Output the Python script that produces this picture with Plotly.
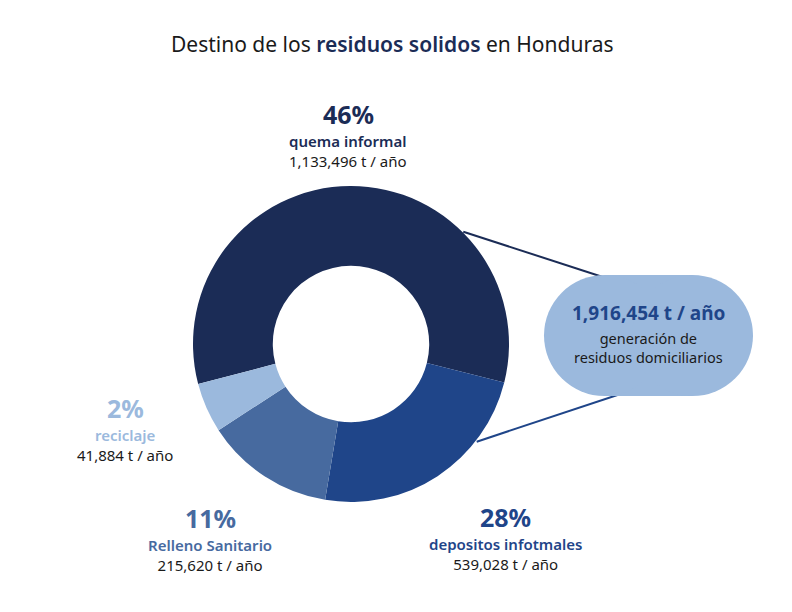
import plotly.graph_objects as go

# ---- data ----
categories = ["quema informal", "depositos infotmales", "Relleno Sanitario", "reciclaje"]
slice_share = [58.0, 23.7, 13.2, 5.1]          # share of the ring as drawn in the picture
percent_labels = ["46%", "28%", "11%", "2%"]
tonnes_labels = ["1,133,496 t / año", "539,028 t / año", "215,620 t / año", "41,884 t / año"]
total_label = "1,916,454 t / año"
total_caption = ["generación de", "residuos domiciliarios"]
colors = ["#1b2c56", "#1f4589", "#476a9f", "#9bb9dd"]
pct_colors = ["#1b2c56", "#1f4589", "#476a9f", "#9bb9dd"]

FONT = "Noto Sans"
W, H = 792, 612

fig = go.Figure()

# donut geometry (pixels)
cx, cy, R = 351, 344, 158
fig.add_trace(go.Pie(
    values=slice_share, labels=categories, sort=False, direction="clockwise",
    rotation=255.3, hole=0.495, marker=dict(colors=colors, line=dict(width=0)),
    textinfo="none", hoverinfo="skip", showlegend=False,
    domain=dict(x=[(cx - R) / W, (cx + R) / W], y=[(H - cy - R) / H, (H - cy + R) / H]),
))

# invisible pixel-scale axes for decorations
fig.add_trace(go.Scatter(x=[0, W], y=[0, H], mode="markers", marker=dict(opacity=0),
                         hoverinfo="skip", showlegend=False))
fig.update_xaxes(range=[0, W], visible=False, fixedrange=True, domain=[0, 1])
fig.update_yaxes(range=[H, 0], visible=False, fixedrange=True, domain=[0, 1])

# connector lines
fig.add_shape(type="line", x0=463.3, y0=231.7, x1=612, y1=280,
              line=dict(color="#1b2c56", width=2), xref="x", yref="y", layer="above")
fig.add_shape(type="line", x0=476.7, y0=441.7, x1=625, y1=392.5,
              line=dict(color="#1f4589", width=2), xref="x", yref="y", layer="above")

# pill
px0, px1, py0, py1 = 544, 753, 275, 396
pr = (py1 - py0) / 2
pill_col = "#9bb9dd"
fig.add_shape(type="rect", x0=px0 + pr, x1=px1 - pr, y0=py0, y1=py1,
              fillcolor=pill_col, line=dict(width=0), xref="x", yref="y", layer="above")
fig.add_shape(type="circle", x0=px0, x1=px0 + 2 * pr, y0=py0, y1=py1,
              fillcolor=pill_col, line=dict(width=0), xref="x", yref="y", layer="above")
fig.add_shape(type="circle", x0=px1 - 2 * pr, x1=px1, y0=py0, y1=py1,
              fillcolor=pill_col, line=dict(width=0), xref="x", yref="y", layer="above")

def ann(x, y, text, size, color, weight="normal"):
    fig.add_annotation(x=x, y=y, xref="x", yref="y", text=text, showarrow=False,
                       xanchor="center", yanchor="middle", borderpad=0,
                       font=dict(family=FONT, size=size, color=color, weight=weight))

# title
ann(392, 44, "Destino de los <span style='color:#1b2c56;font-weight:600'>residuos solidos</span> en Honduras",
    21, "#1a1a1a")

# slice labels
label_pos = [(348, 114), (505, 517), (210, 518), (125, 408)]
for i, (x, y) in enumerate(label_pos):
    ann(x, y, "<b>" + percent_labels[i] + "</b>", 25, pct_colors[i], "bold")
    ann(x, y + 37, "<span style='font-weight:600'>" + categories[i] + "</span><br>"
        "<span style='color:#1a1a1a'>" + tonnes_labels[i] + "</span>", 15, pct_colors[i])

# pill text
ann(648, 313, "<b>" + total_label + "</b>", 19, "#1f4589", "bold")
ann(648, 347, total_caption[0] + "<br>" + total_caption[1], 14.5, "#1a1a1a")

fig.update_layout(width=W, height=H, margin=dict(l=0, r=0, t=0, b=0),
                  paper_bgcolor="white", plot_bgcolor="white")
fig.write_html("out.html", config={"displayModeBar": False},
               post_script="document.body.style.margin='0';")
